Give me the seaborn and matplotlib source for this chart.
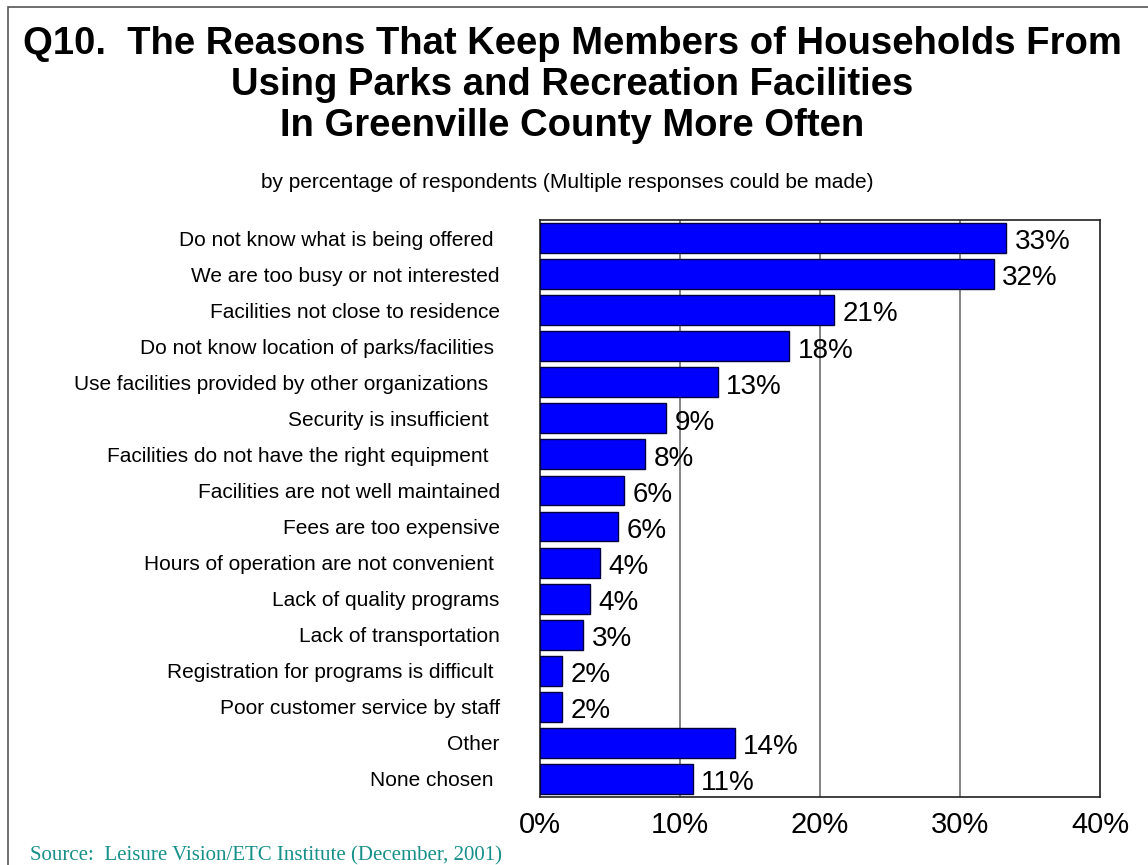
import matplotlib
matplotlib.use("Agg")
import matplotlib.pyplot as plt
import seaborn as sns
import pandas as pd
from matplotlib.patches import Rectangle

categories = [
    "Do not know what is being offered ",
    "We are too busy or not interested",
    "Facilities not close to residence",
    "Do not know location of parks/facilities ",
    "Use facilities provided by other organizations  ",
    "Security is insufficient  ",
    "Facilities do not have the right equipment  ",
    "Facilities are not well maintained",
    "Fees are too expensive",
    "Hours of operation are not convenient ",
    "Lack of quality programs",
    "Lack of transportation",
    "Registration for programs is difficult ",
    "Poor customer service by staff",
    "Other",
    "None chosen ",
]
values = [33.3, 32.4, 21.0, 17.8, 12.7, 9.0, 7.5, 6.0, 5.6, 4.3, 3.6, 3.1, 1.6, 1.6, 13.9, 10.9]
value_labels = ["33%", "32%", "21%", "18%", "13%", "9%", "8%", "6%", "6%", "4%", "4%", "3%", "2%", "2%", "14%", "11%"]
x_ticks = [0, 10, 20, 30, 40]
x_tick_labels = ["0%", "10%", "20%", "30%", "40%"]

title = ("Q10.  The Reasons That Keep Members of Households From\n"
         "Using Parks and Recreation Facilities\n"
         "In Greenville County More Often")
subtitle = "by percentage of respondents (Multiple responses could be made)"
source = "Source:  Leisure Vision/ETC Institute (December, 2001)"

df = pd.DataFrame({"category": categories, "value": values})

sns.set_theme(style="white")
plt.rcParams["font.family"] = ["Liberation Sans", "DejaVu Sans"]
plt.rcParams["text.color"] = "black"
plt.rcParams["xtick.color"] = "black"
plt.rcParams["ytick.color"] = "black"

fig = plt.figure(figsize=(11.48, 8.65), dpi=100)
ax = fig.add_axes([540 / 1148, 1 - 797 / 865, 560 / 1148, 577 / 865])

sns.barplot(data=df, x="value", y="category", orient="h", color="#0000FF",
            saturation=1, width=0.83, edgecolor="#000040", linewidth=1.0, ax=ax, zorder=3)

ax.set_xlim(0, 40)
ax.set_ylim(len(categories) - 0.5, -0.5)
ax.set_xticks(x_ticks)
ax.set_xticklabels(x_tick_labels, fontsize=21)
ax.tick_params(axis="x", length=0, pad=10)
ax.tick_params(axis="y", length=0, pad=29)
ax.set_yticks(range(len(categories)))
ax.set_yticklabels(categories, fontsize=15)
ax.set_xlabel("")
ax.set_ylabel("")
for x in x_ticks[1:-1]:
    ax.axvline(x, color="#707070", lw=1.2, zorder=1)
for s in ax.spines.values():
    s.set_visible(True)
    s.set_color("#202020")
    s.set_linewidth(1.2)

for i, (v, lab) in enumerate(zip(values, value_labels)):
    ax.text(v + 0.6, i + 0.12, lab, va="center", ha="left", fontsize=20, zorder=4)

fig.text(572 / 1148, 1 - 26 / 865, title, ha="center", va="top", fontsize=27.5,
         fontweight="bold", linespacing=1.17)
fig.text(567 / 1148, 1 - 182 / 865, subtitle, ha="center", va="center", fontsize=15)
fig.text(30 / 1148, 1 - 856 / 865, source, ha="left", va="center", fontsize=15,
         family=["Liberation Serif", "DejaVu Serif"], color="#17908a")

fig.add_artist(Rectangle((8 / 1148, -0.1), 1.2, 1 - 7 / 865 + 0.1, transform=fig.transFigure,
                         fill=False, edgecolor="#555555", lw=1.2))

fig.savefig("out.png", dpi=100)
